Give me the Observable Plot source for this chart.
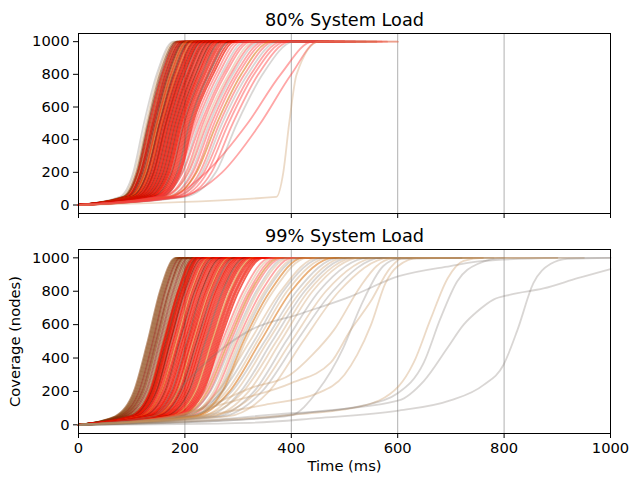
<!DOCTYPE html>
<html>
<head>
<meta charset="utf-8">
<script src="https://cdn.jsdelivr.net/npm/d3@7"></script>
<script src="https://cdn.jsdelivr.net/npm/@observablehq/plot@0.6"></script>
<style>
  body { margin: 0; background: #fff; }
  #chart { width: 629px; height: 477px; }
  #chart svg { display: block; }
</style>
</head>
<body>
<div id="chart"></div>
<script>
// Coverage levels (nodes) at which each run's time (ms) is read; last entry = end of run at full coverage
const levels = [0, 50, 200, 500, 800, 1000, 1000];
const xTicks = [0, 200, 400, 600, 800, 1000];
const yTicks = [0, 200, 400, 600, 800, 1000];
const titles = ["80% System Load", "99% System Load"];
const xLabel = "Time (ms)";
const yLabel = "Coverage (nodes)";

// run groups (colour families)
const groupKeys = ["r", "d", "b", "o", "g", "t", "p"];

// 80% load: [t@0, t@50, t@200, t@500, t@800, t@1000, tEnd, group]
const load80 = [
  [0, 78, 103, 123, 147, 178, 320, "g"],
  [0, 82, 106, 127, 150, 181, 290, "t"],
  [0, 84, 109, 130, 153, 184, 350, "b"],
  [0, 86, 111, 132, 156, 186, 300, "d"],
  [0, 88, 112, 134, 158, 189, 380, "r"],
  [0, 85, 113, 136, 160, 190, 330, "b"],
  [0, 90, 116, 138, 162, 193, 410, "r"],
  [0, 92, 117, 140, 164, 195, 300, "d"],
  [0, 91, 118, 141, 166, 197, 360, "r"],
  [0, 94, 120, 143, 168, 199, 420, "d"],
  [0, 95, 122, 145, 170, 201, 340, "d"],
  [0, 97, 124, 147, 172, 203, 390, "o"],
  [0, 96, 125, 148, 174, 205, 310, "r"],
  [0, 99, 127, 150, 176, 207, 440, "o"],
  [0, 101, 129, 152, 178, 209, 350, "d"],
  [0, 100, 130, 153, 180, 211, 400, "d"],
  [0, 103, 132, 155, 182, 213, 330, "r"],
  [0, 105, 134, 157, 184, 216, 460, "o"],
  [0, 104, 135, 158, 186, 218, 370, "r"],
  [0, 107, 137, 160, 188, 220, 320, "d"],
  [0, 109, 139, 162, 190, 222, 410, "r"],
  [0, 110, 141, 164, 192, 225, 350, "r"],
  [0, 112, 142, 165, 194, 227, 450, "d"],
  [0, 113, 144, 167, 196, 229, 380, "r"],
  [0, 115, 146, 169, 198, 231, 330, "r"],
  [0, 117, 148, 171, 200, 233, 420, "d"],
  [0, 118, 150, 173, 203, 236, 360, "r"],
  [0, 120, 152, 175, 205, 238, 470, "r"],
  [0, 122, 154, 177, 207, 241, 390, "d"],
  [0, 124, 156, 179, 209, 243, 340, "r"],
  [0, 125, 158, 181, 212, 246, 430, "r"],
  [0, 127, 160, 183, 214, 248, 370, "d"],
  [0, 129, 162, 185, 216, 251, 480, "r"],
  [0, 131, 164, 187, 219, 254, 400, "r"],
  [0, 133, 166, 189, 221, 256, 350, "d"],
  [0, 135, 168, 191, 224, 259, 440, "r"],
  [0, 136, 170, 193, 226, 262, 380, "r"],
  [0, 139, 172, 195, 229, 265, 500, "r"],
  [0, 141, 175, 198, 232, 268, 410, "d"],
  [0, 144, 177, 200, 235, 272, 360, "r"],
  [0, 146, 180, 203, 238, 276, 450, "r"],
  [0, 149, 183, 206, 242, 280, 390, "r"],
  [0, 151, 186, 209, 245, 284, 470, "d"],
  [0, 154, 189, 212, 249, 289, 420, "r"],
  [0, 157, 192, 215, 253, 294, 380, "r"],
  [0, 150, 188, 218, 258, 300, 480, "p"],
  [0, 145, 190, 222, 263, 306, 430, "p"],
  [0, 155, 195, 226, 268, 312, 520, "g"],
  [0, 150, 196, 230, 272, 318, 460, "p"],
  [0, 160, 202, 234, 276, 324, 500, "p"],
  [0, 165, 205, 238, 282, 330, 440, "t"],
  [0, 158, 207, 242, 286, 336, 540, "p"],
  [0, 170, 212, 246, 290, 342, 480, "g"],
  [0, 168, 215, 250, 295, 348, 520, "p"],
  [0, 175, 220, 255, 300, 355, 460, "p"],
  [0, 172, 222, 260, 306, 362, 560, "o"],
  [0, 180, 228, 265, 312, 368, 500, "p"],
  [0, 185, 232, 270, 318, 375, 540, "g"],
  [0, 182, 236, 276, 324, 382, 480, "p"],
  [0, 190, 242, 282, 330, 390, 580, "p"],
  [0, 195, 250, 290, 338, 398, 520, "p"],
  [0, 200, 258, 298, 346, 405, 560, "g"],
  [0, 170, 240, 318, 380, 440, 570, "p"],
  [0, 190, 270, 342, 400, 450, 600, "p"],
  [0, 372, 385, 396, 410, 452, 600, "t"]
];

// 99% load: [t@0, t@50, t@200, t@500, t@800, t@1000, tEnd, group]
const load99 = [
  [0, 68, 104, 130, 153, 182, 640, "b"],
  [0, 70, 106, 132, 155, 184, 560, "b"],
  [0, 72, 108, 134, 157, 186, 600, "b"],
  [0, 73, 110, 136, 159, 188, 520, "b"],
  [0, 75, 112, 138, 161, 190, 640, "b"],
  [0, 77, 114, 140, 163, 192, 580, "d"],
  [0, 78, 116, 142, 165, 194, 500, "b"],
  [0, 80, 118, 144, 168, 196, 620, "b"],
  [0, 82, 120, 146, 170, 198, 560, "d"],
  [0, 84, 122, 148, 172, 200, 600, "b"],
  [0, 86, 124, 150, 175, 203, 540, "b"],
  [0, 88, 127, 153, 178, 206, 640, "d"],
  [0, 91, 130, 156, 181, 209, 580, "b"],
  [0, 94, 133, 159, 184, 212, 520, "b"],
  [0, 96, 136, 162, 187, 215, 600, "d"],
  [0, 99, 139, 165, 190, 218, 560, "b"],
  [0, 102, 142, 168, 194, 222, 620, "b"],
  [0, 105, 146, 172, 198, 226, 540, "d"],
  [0, 98, 134, 160, 187, 218, 420, "r"],
  [0, 100, 136, 162, 189, 221, 380, "r"],
  [0, 101, 138, 165, 192, 224, 450, "d"],
  [0, 104, 140, 167, 194, 226, 400, "r"],
  [0, 106, 142, 169, 196, 229, 360, "r"],
  [0, 107, 144, 172, 199, 232, 480, "r"],
  [0, 110, 147, 174, 201, 234, 420, "d"],
  [0, 111, 149, 177, 204, 237, 390, "r"],
  [0, 114, 151, 179, 206, 240, 450, "r"],
  [0, 116, 154, 182, 209, 243, 370, "r"],
  [0, 117, 156, 184, 212, 246, 500, "o"],
  [0, 120, 158, 187, 214, 248, 420, "r"],
  [0, 122, 161, 189, 217, 251, 390, "r"],
  [0, 123, 163, 191, 219, 254, 460, "d"],
  [0, 126, 165, 194, 222, 257, 410, "r"],
  [0, 128, 168, 196, 224, 260, 380, "r"],
  [0, 130, 170, 199, 227, 263, 480, "r"],
  [0, 131, 172, 201, 230, 266, 430, "r"],
  [0, 134, 175, 204, 232, 269, 400, "d"],
  [0, 136, 177, 206, 235, 272, 520, "r"],
  [0, 138, 179, 208, 238, 275, 440, "r"],
  [0, 140, 182, 211, 240, 278, 410, "r"],
  [0, 142, 184, 213, 243, 281, 490, "r"],
  [0, 144, 186, 216, 246, 284, 450, "o"],
  [0, 146, 189, 218, 248, 287, 420, "r"],
  [0, 148, 191, 221, 251, 290, 530, "r"],
  [0, 150, 193, 223, 254, 293, 460, "d"],
  [0, 153, 196, 226, 257, 297, 430, "r"],
  [0, 155, 198, 228, 259, 300, 500, "r"],
  [0, 157, 201, 231, 262, 303, 470, "r"],
  [0, 160, 203, 233, 265, 306, 440, "r"],
  [0, 162, 206, 236, 268, 310, 540, "r"],
  [0, 164, 208, 239, 271, 313, 480, "d"],
  [0, 167, 211, 242, 274, 317, 450, "r"],
  [0, 169, 214, 245, 277, 320, 520, "r"],
  [0, 172, 217, 248, 280, 324, 490, "r"],
  [0, 175, 220, 251, 284, 328, 460, "o"],
  [0, 177, 223, 254, 287, 332, 560, "r"],
  [0, 180, 226, 257, 290, 336, 500, "r"],
  [0, 183, 229, 260, 294, 340, 470, "r"],
  [0, 186, 232, 263, 297, 344, 540, "r"],
  [0, 189, 235, 266, 301, 348, 510, "r"],
  [0, 180, 232, 270, 310, 360, 560, "p"],
  [0, 185, 236, 274, 315, 366, 520, "t"],
  [0, 178, 238, 278, 320, 372, 600, "p"],
  [0, 190, 242, 282, 324, 378, 540, "o"],
  [0, 195, 246, 286, 328, 384, 580, "p"],
  [0, 188, 248, 290, 334, 390, 620, "g"],
  [0, 200, 254, 294, 338, 396, 560, "t"],
  [0, 205, 258, 298, 344, 402, 600, "p"],
  [0, 198, 262, 302, 350, 410, 640, "t"],
  [0, 210, 266, 306, 354, 416, 580, "g"],
  [0, 215, 270, 310, 360, 422, 620, "o"],
  [0, 208, 272, 314, 366, 430, 660, "t"],
  [0, 200, 262, 322, 380, 450, 680, "t"],
  [0, 190, 270, 330, 385, 460, 640, "g"],
  [0, 215, 278, 336, 392, 470, 700, "t"],
  [0, 220, 284, 342, 400, 480, 720, "o"],
  [0, 205, 288, 350, 410, 490, 660, "g"],
  [0, 230, 296, 356, 418, 500, 700, "t"],
  [0, 240, 305, 364, 425, 510, 760, "g"],
  [0, 225, 310, 372, 432, 520, 720, "t"],
  [0, 250, 320, 380, 440, 530, 680, "t"],
  [0, 260, 330, 390, 452, 545, 780, "g"],
  [0, 245, 336, 400, 465, 560, 740, "t"],
  [0, 270, 345, 410, 478, 570, 800, "g"],
  [0, 280, 358, 422, 490, 585, 760, "t"]
];

// 99% load, slow runs read point by point: [time, coverage]
const load99Slow = [
  [[0,0],[150,30],[250,120],[323,220],[398,300],[440,420],[480,567],[530,829],[560,950],[590,995],[700,1000]],
  [[0,0],[200,15],[300,30],[398,55],[449,201],[498,463],[530,707],[573,951],[602,994],[720,1000]],
  [[0,0],[150,40],[300,150],[400,250],[474,372],[510,560],[549,738],[586,940],[610,1000],[760,1000]],
  [[0,0],[140,50],[200,250],[260,430],[323,567],[417,665],[511,768],[602,890],[699,951],[761,982],[900,1000]],
  [[0,0],[200,20],[400,60],[530,110],[602,232],[630,372],[662,634],[694,878],[724,982],[760,1000],[950,1000]],
  [[0,0],[250,30],[400,70],[474,85],[536,116],[600,189],[649,372],[680,634],[712,860],[750,963],[800,1000],[1000,1000]],
  [[0,0],[300,30],[450,80],[602,146],[649,262],[694,463],[724,600],[750,680],[780,750],[812,780],[874,817],[938,878],[1000,933]],
  [[0,0],[323,12],[449,40],[602,85],[699,146],[761,238],[799,360],[825,567],[855,848],[887,963],[919,994],[1000,1000]],
  [[0,0],[200,40],[350,120],[450,190],[500,300],[524,420],[550,600],[577,848],[600,950],[640,1000],[900,1000]]
];
const load99SlowGroups = ["t", "g", "t", "g", "t", "g", "g", "g", "t"];

// ---- build tidy rows ----
function runRows(runs, prefix) {
  return runs.flatMap((r, i) => levels.map((c, k) => ({id: prefix + i, t: r[k], c, g: r[7]})));
}
function slowRows(runs, groups, prefix) {
  return runs.flatMap((pts, i) => pts.map(([t, c]) => ({id: prefix + i, t, c, g: groups[i]})));
}
const data80 = runRows(load80, "a");
const data99 = runRows(load99, "b").concat(slowRows(load99Slow, load99SlowGroups, "s"));

const colorScale = {
  domain: groupKeys,
  range: ["#f01200", "#8a1200", "#8b4513", "#d8700c", "#807870", "#c8965f", "#ff3c3c"]
};
const groupOpacity = {r: 0.68, d: 0.6, b: 0.55, o: 0.55, g: 0.3, t: 0.35, p: 0.45};
const font = {fontFamily: "DejaVu Sans, sans-serif", fontSize: "14.7px", background: "white", color: "black"};

function panel({data, title, height, marginTop, marginBottom, showX}) {
  const marks = [
    Plot.ruleX(xTicks, {stroke: "#b0b0b0", strokeWidth: 1}),
    Plot.line(data, {x: "t", y: "c", z: "id", stroke: "g", curve: "monotone-x",
                     strokeWidth: 1.8, strokeOpacity: d => groupOpacity[d.g]}),
    Plot.frame({stroke: "black", strokeWidth: 1}),
    Plot.text([title], {text: d => d, frameAnchor: "top", dy: -8, lineAnchor: "bottom", fontSize: 17.7})
  ];
  if (showX) {
    marks.push(Plot.text([xLabel], {text: d => d, frameAnchor: "bottom", dy: 33, lineAnchor: "middle", fontSize: 14.7}));
    marks.push(Plot.text([yLabel], {text: d => d, frameAnchor: "left", textAnchor: "middle", dx: -63, rotate: -90, fontSize: 14.7}));
  }
  return Plot.plot({
    width: 629, height, marginLeft: 78, marginRight: 19, marginTop, marginBottom,
    style: font,
    x: {domain: [0, 1000], ticks: xTicks, tickSize: 5, tickPadding: 4, label: null,
        tickFormat: showX ? (d => String(d)) : (() => "")},
    y: {domain: [-52, 1050], ticks: yTicks, tickSize: 5, tickPadding: 4, label: null,
        tickFormat: d => String(d)},
    color: colorScale,
    marks
  });
}

const chart = document.getElementById("chart");
chart.appendChild(panel({data: data80, title: titles[0], height: 222, marginTop: 33, marginBottom: 9, showX: false}));
chart.appendChild(panel({data: data99, title: titles[1], height: 255, marginTop: 27, marginBottom: 44, showX: true}));
</script>
</body>
</html>
